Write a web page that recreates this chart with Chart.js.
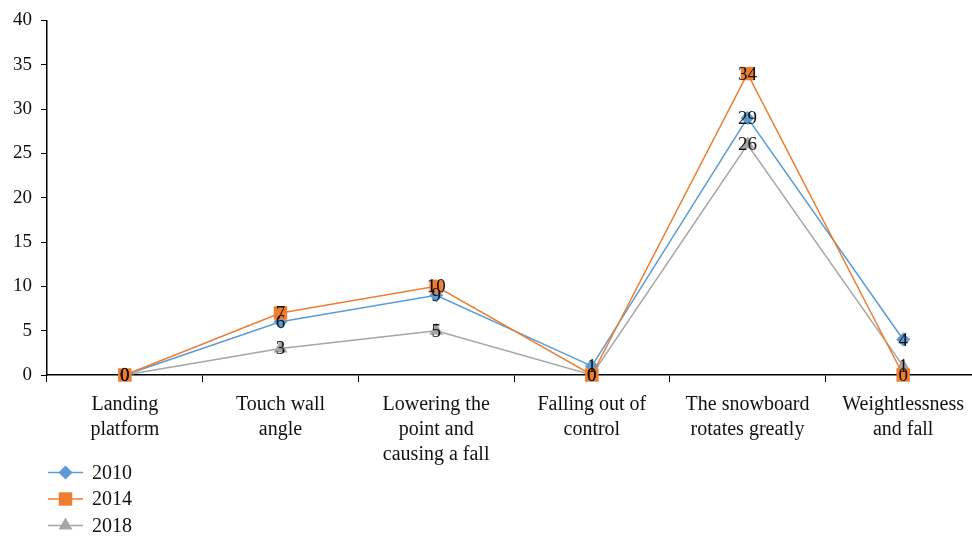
<!DOCTYPE html>
<html>
<head>
<meta charset="utf-8">
<script src="https://cdn.jsdelivr.net/npm/chart.js@4/dist/chart.umd.min.js"></script>
<style>
  html, body { margin: 0; padding: 0; background: #fff; overflow: hidden; }
  #wrap { position: relative; width: 972px; height: 537px; }
</style>
</head>
<body>
<div id="wrap"><canvas id="c"></canvas></div>
<script>
// Accident causes by year
const categories = [
  ['Landing', 'platform'],
  ['Touch wall', 'angle'],
  ['Lowering the', 'point and', 'causing a fall'],
  ['Falling out of', 'control'],
  ['The snowboard', 'rotates greatly'],
  ['Weightlessness', 'and fall']
];
const seriesNames = ['2010', '2014', '2018'];
const values2010 = [0, 6, 9, 1, 29, 4];
const values2014 = [0, 7, 10, 0, 34, 0];
const values2018 = [0, 3, 5, 0, 26, 1];
const yTicks = [0, 5, 10, 15, 20, 25, 30, 35, 40];

const FONT = '"Liberation Serif", "Times New Roman", serif';
const colors = ['#5B9BD5', '#ED7D31', '#A5A5A5'];
const styles = ['rectRot', 'rect', 'triangle'];
const radii = [7, 9.5, 8];
const allValues = [values2010, values2014, values2018];

const datasets = seriesNames.map((name, i) => ({
  label: name,
  data: allValues[i],
  borderColor: colors[i],
  backgroundColor: colors[i],
  borderWidth: 1.5,
  pointStyle: styles[i],
  pointRadius: radii[i],
  pointBorderWidth: 0,
  pointHoverRadius: radii[i],
  tension: 0,
  clip: false,
  order: [1, 0, 2][i]
}));

// The category axis runs slightly past the canvas' right edge
const PLOT_RIGHT = 981;
const stretchPlot = {
  id: 'stretchPlot',
  afterLayout(chart) {
    const xs = chart.scales.x;
    xs.right = PLOT_RIGHT;
    xs.width = xs.right - xs.left;
    xs.configure();
    chart.chartArea.right = PLOT_RIGHT;
    chart.chartArea.width = PLOT_RIGHT - chart.chartArea.left;
  }
};

// Value labels centred on each point
const valueLabels = {
  id: 'valueLabels',
  afterDatasetsDraw(chart) {
    const ctx = chart.ctx;
    ctx.save();
    ctx.font = '19px ' + FONT;
    ctx.fillStyle = '#111';
    ctx.textAlign = 'center';
    ctx.textBaseline = 'middle';
    [2, 0, 1].forEach(di => {
      const meta = chart.getDatasetMeta(di);
      meta.data.forEach((pt, j) => {
        ctx.fillText(String(chart.data.datasets[di].data[j]), pt.x, pt.y + 1);
      });
    });
    ctx.restore();
  }
};

// Vertical legend: line through marker, then year
const lineLegend = {
  id: 'lineLegend',
  afterDraw(chart) {
    const ctx = chart.ctx;
    ctx.save();
    const rows = [472.5, 499, 525.5];
    chart.data.datasets.forEach((ds, i) => {
      const y = rows[i];
      ctx.strokeStyle = ds.borderColor;
      ctx.lineWidth = 1.5;
      ctx.beginPath();
      ctx.moveTo(48, y);
      ctx.lineTo(83, y);
      ctx.stroke();
      ctx.fillStyle = ds.backgroundColor;
      Chart.helpers.drawPoint(ctx, {
        pointStyle: ds.pointStyle, radius: ds.pointRadius, rotation: 0, borderWidth: 0
      }, 65.5, y);
      ctx.fillStyle = '#111';
      ctx.font = '20px ' + FONT;
      ctx.textAlign = 'left';
      ctx.textBaseline = 'middle';
      ctx.fillText(ds.label, 92, y + 1);
    });
    ctx.restore();
  }
};

new Chart(document.getElementById('c'), {
  type: 'line',
  data: { labels: categories, datasets },
  plugins: [stretchPlot, valueLabels, lineLegend],
  options: {
    responsive: true,
    maintainAspectRatio: false,
    animation: false,
    layout: { padding: { top: 18, right: 1, bottom: 0, left: 0 } },
    plugins: { legend: { display: false }, tooltip: { enabled: false } },
    scales: {
      x: {
        offset: true,
        grid: { display: true, drawOnChartArea: false, drawTicks: true, tickLength: 7, color: '#000', offset: true },
        border: { display: true, color: '#000', width: 1.5 },
        ticks: {
          color: '#111', padding: 10, maxRotation: 0, autoSkip: false,
          font: { family: FONT, size: 20, lineHeight: 1.25 }
        },
        afterFit(scale) { scale.height = 162; }
      },
      y: {
        min: 0, max: 40,
        afterBuildTicks(scale) { scale.ticks = yTicks.map(v => ({ value: v })); },
        grid: { display: true, drawOnChartArea: false, drawTicks: true, tickLength: 6, color: '#000' },
        border: { display: true, color: '#000', width: 1.5 },
        ticks: { color: '#111', padding: 9, font: { family: FONT, size: 19 } },
        afterFit(scale) { scale.width = 47; }
      }
    }
  }
});
</script>
</body>
</html>
